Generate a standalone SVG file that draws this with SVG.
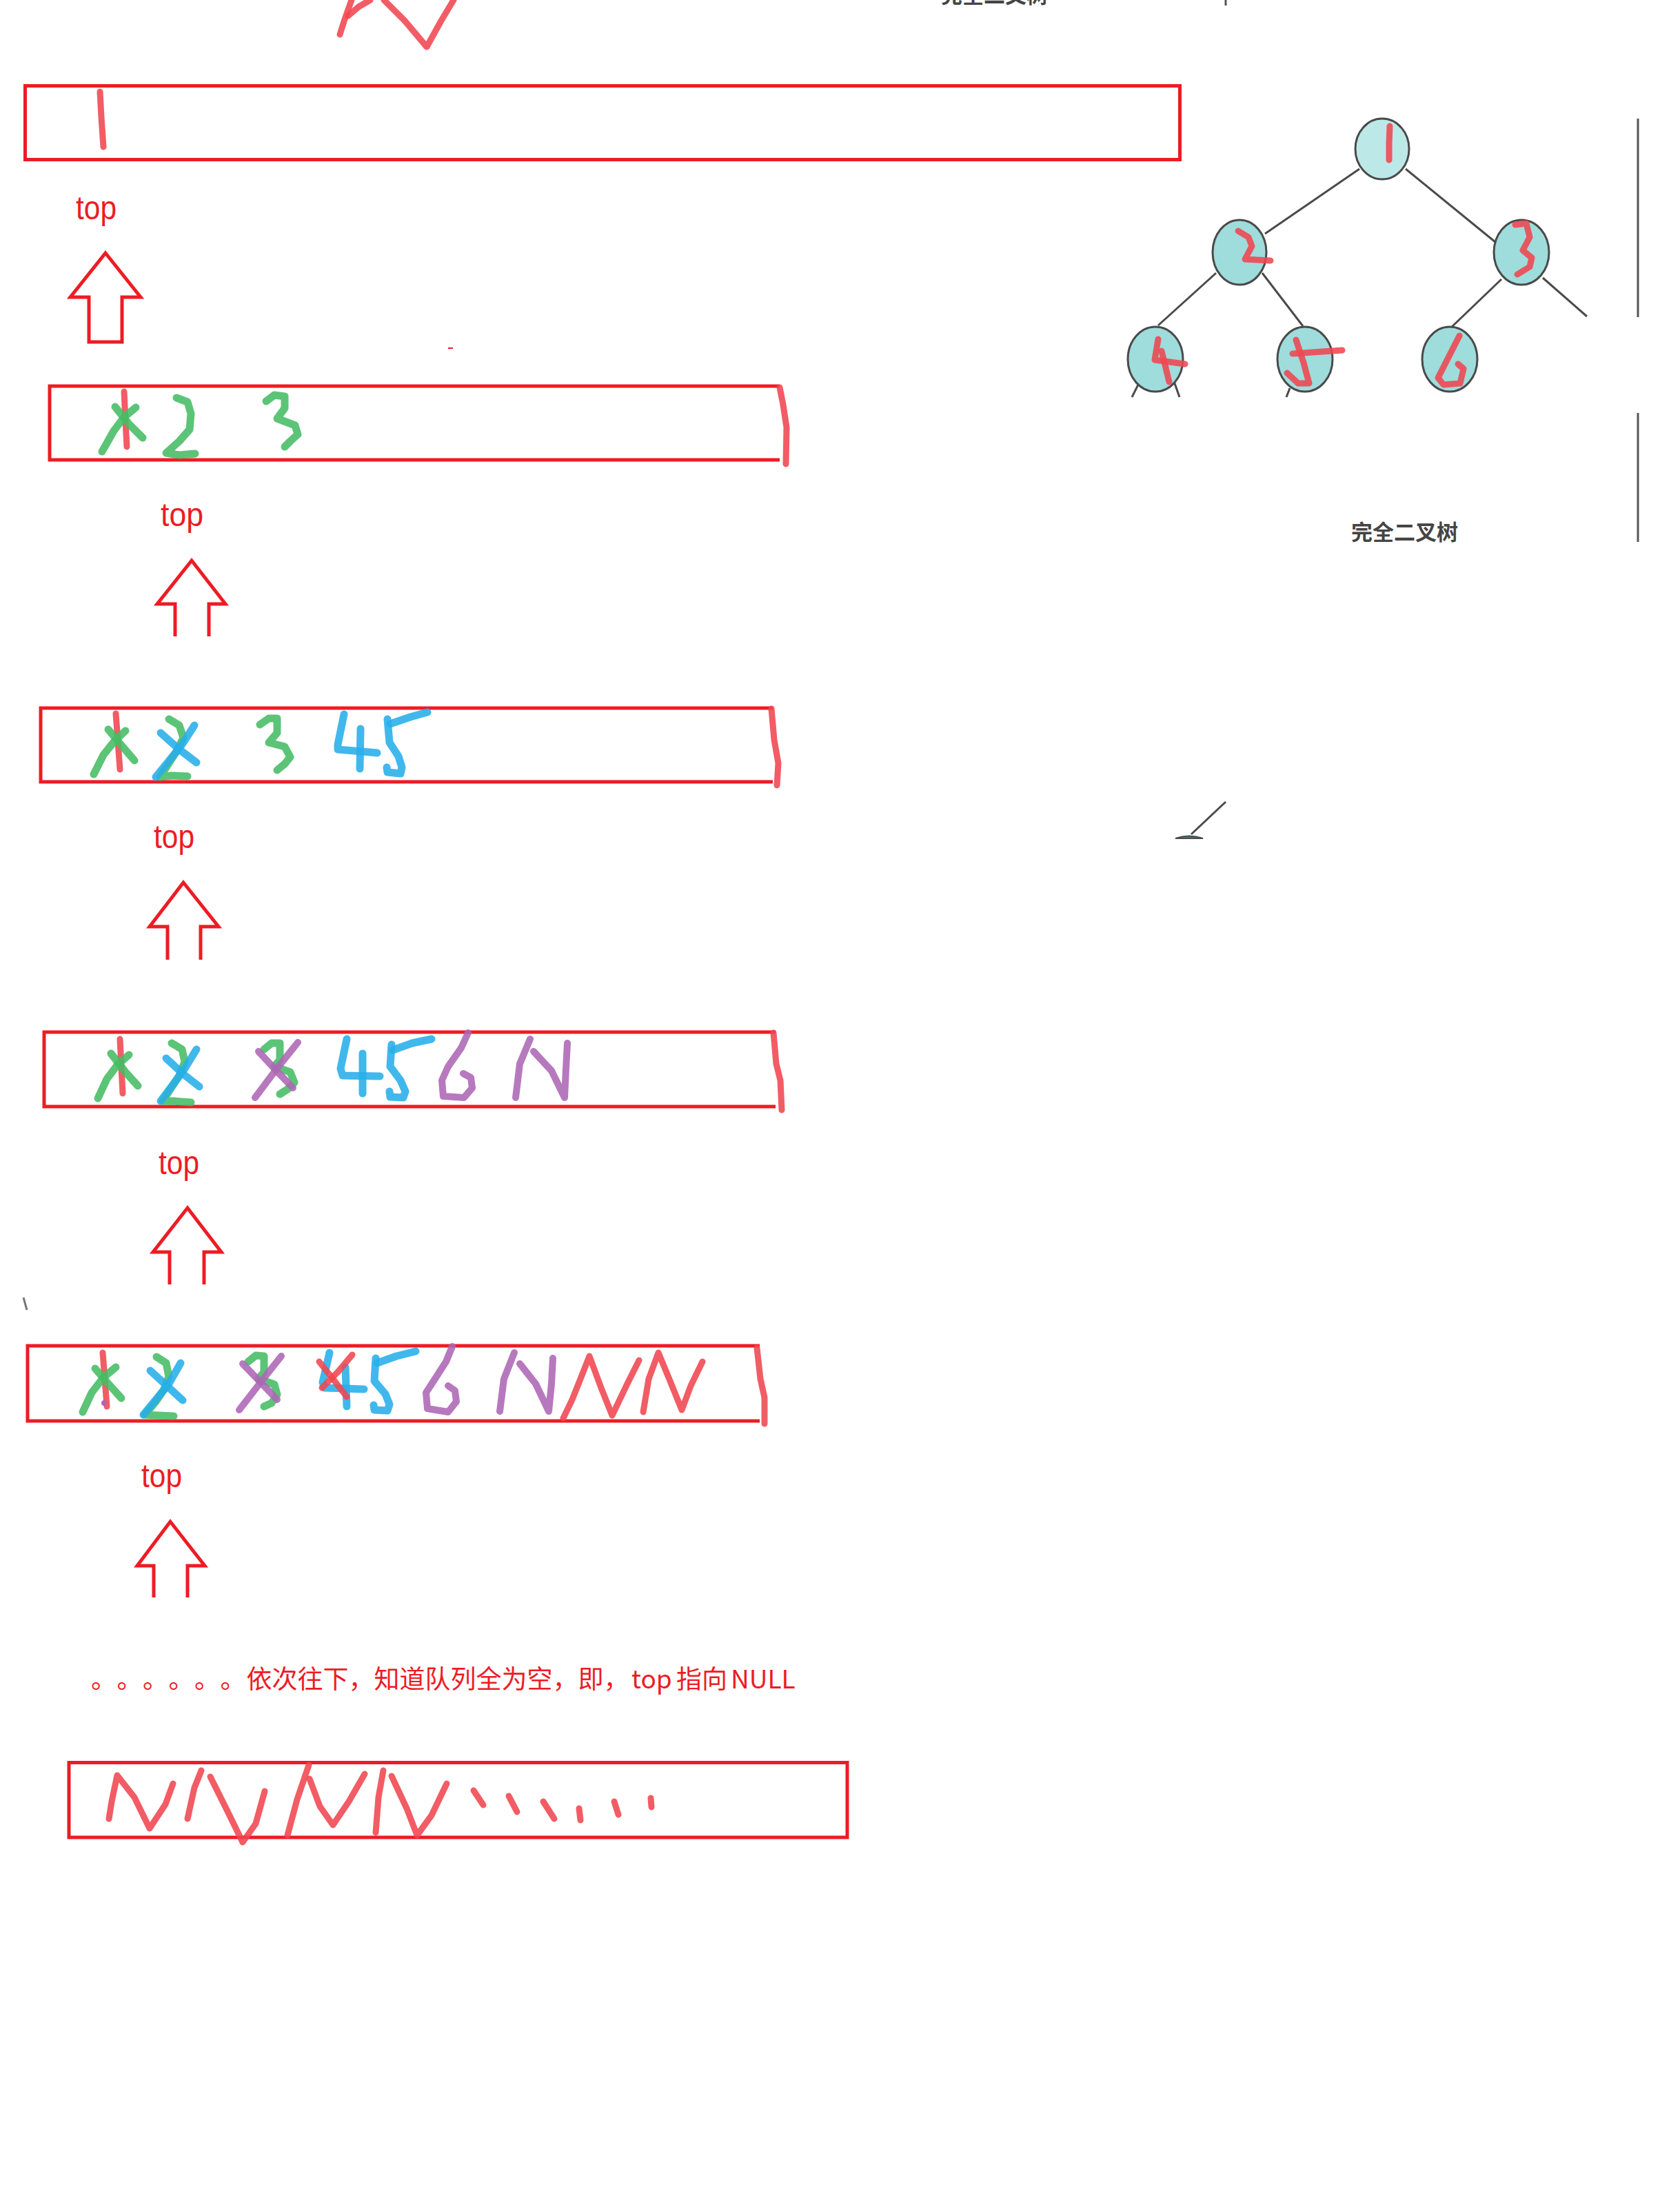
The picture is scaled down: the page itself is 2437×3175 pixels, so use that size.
<svg xmlns="http://www.w3.org/2000/svg" width="2437" height="3175" viewBox="0 0 2437 3175">
<style>
.box{fill:none;stroke:#ed1c24;stroke-width:5;stroke-linejoin:miter}
.arr{fill:none;stroke:#ed1c24;stroke-width:5;stroke-linejoin:miter}
.pen{fill:none;stroke-linecap:round;stroke-linejoin:round;opacity:0.88}
.r{stroke:#f04550;stroke-width:9}
.g{stroke:#45bc64;stroke-width:11}
.b{stroke:#27aee9;stroke-width:11}
.p{stroke:#ad66b5;stroke-width:10}
.top{font-family:"Liberation Sans","Noto Sans",sans-serif;font-size:48px;fill:#ed1c24}
.node{fill:#9fdcdc;stroke:#4a4a4a;stroke-width:3}
.edge{stroke:#4a4a4a;stroke-width:3;fill:none}
.grey{stroke:#555;stroke-width:3;fill:none}
.cap{font-family:"Noto Sans CJK SC","Noto Sans",sans-serif;font-size:31px;font-weight:bold;fill:#444}
.note{font-family:"Noto Sans CJK SC","Noto Sans",sans-serif;font-size:37px;fill:#ed1c24}
</style>
<rect width="2437" height="3175" fill="#ffffff"/>

<g id="top-fragment">
<polyline class="pen r" points="493,50 500,28 510,0"/>
<polyline class="pen r" points="505,23 520,10 537,0"/>
<polyline class="pen r" points="557,0 587,30 619,68 640,30 658,0"/>
<text class="cap" x="1365" y="4" fill="#555">完全二叉树</text>
<line class="grey" x1="1778" y1="0" x2="1778" y2="8"/>
</g>

<g id="queue1">
<rect class="box" x="36.5" y="124.5" width="1675" height="107"/>
<polyline class="pen r" points="145,133 147,170 150,213"/>
</g>
<text id="top1" class="top" x="110" y="318" textLength="59" lengthAdjust="spacingAndGlyphs">top</text>

<g id="queue2">
<polyline class="box" points="1131,560 72,560 72,667 1131,667"/>
<polyline class="pen r" stroke-width="7" points="1131,562 1136,587 1141,620 1140,673"/>
<polyline class="pen r" points="180,568 182,610 184,648"/>
<polyline class="pen g" points="148,655 165,625 180,605 197,591"/>
<polyline class="pen g" points="167,590 187,615 207,635"/>
<polyline class="pen g" points="256,577 272,583 277,600 275,623 260,640 241,657 260,660 283,658"/>
<polyline class="pen g" points="386,582 398,573 413,575 413,592 402,607 428,617 432,630 421,640 413,648"/>
</g>
<text id="top2" class="top" x="233" y="763" textLength="62" lengthAdjust="spacingAndGlyphs">top</text>

<g id="queue3">
<polyline class="box" points="1121,1027 59,1027 59,1134 1121,1134"/>
<polyline class="pen r" stroke-width="7" points="1119,1028 1123,1073 1129,1107 1127,1139"/>
<polyline class="pen r" points="168,1035 171,1075 174,1116"/>
<polyline class="pen g" points="136,1123 150,1095 166,1075 182,1060"/>
<polyline class="pen g" points="157,1058 177,1082 195,1103"/>
<polyline class="pen g" points="245,1043 260,1052 266,1070 256,1090 245,1107 232,1127 249,1125 272,1126"/>
<polyline class="pen b" points="233,1063 260,1087 285,1106"/>
<polyline class="pen b" points="282,1052 264,1080 226,1127"/>
<polyline class="pen g" points="377,1051 390,1042 402,1042 402,1063 390,1077 413,1083 421,1098 413,1108 402,1117"/>
<polyline class="pen b" points="499,1036 490,1080 490,1087 547,1092"/>
<polyline class="pen b" points="523,1057 522,1115"/>
<polyline class="pen b" points="566,1050 595,1040 620,1033"/>
<polyline class="pen b" points="562,1043 565,1077 578,1097 583,1113 581,1122 562,1120 561,1113"/>
</g>
<text id="top3" class="top" x="223" y="1230" textLength="59" lengthAdjust="spacingAndGlyphs">top</text>

<g id="queue4">
<polyline class="box" points="1125,1497 64,1497 64,1605 1125,1605"/>
<polyline class="pen r" stroke-width="7" points="1122,1498 1126,1543 1132,1567 1134,1610"/>
<polyline class="pen r" points="174,1507 176,1548 178,1586"/>
<polyline class="pen g" points="142,1593 155,1565 170,1545 187,1530"/>
<polyline class="pen g" points="161,1528 182,1555 200,1575"/>
<polyline class="pen g" points="249,1513 264,1522 268,1540 260,1560 249,1577 236,1597 252,1597 277,1599"/>
<polyline class="pen b" points="241,1535 266,1558 289,1576"/>
<polyline class="pen b" points="285,1522 268,1550 233,1597"/>
<polyline class="pen g" points="383,1522 394,1513 406,1513 406,1537 398,1547 421,1555 427,1570 417,1580 406,1587"/>
<polyline class="pen p" points="375,1525 400,1552 425,1578"/>
<polyline class="pen p" points="432,1512 400,1552 370,1592"/>
<polyline class="pen b" points="503,1507 494,1550 497,1560 551,1561"/>
<polyline class="pen b" points="526,1528 526,1586"/>
<polyline class="pen b" points="570,1523 598,1513 626,1507"/>
<polyline class="pen b" points="568,1515 566,1547 581,1567 588,1583 585,1592 566,1591 565,1583"/>
<polyline class="pen p" points="679,1498 669,1520 650,1547 641,1567 643,1590 673,1592 685,1578 683,1563 672,1557"/>
<polyline class="pen p" points="748,1592 754,1543 769,1507"/>
<polyline class="pen p" points="774,1525 800,1553 819,1592 821,1550 823,1513"/>
</g>
<text id="top4" class="top" x="230" y="1703" textLength="59" lengthAdjust="spacingAndGlyphs">top</text>

<g id="queue5">
<polyline class="box" points="1102,1952 40,1952 40,2061 1102,2061"/>
<polyline class="pen r" stroke-width="7" points="1098,1955 1103,2000 1109,2027 1109,2065"/>
<polyline class="pen r" points="149,1962 152,2000 155,2040"/>
<polyline class="pen g" points="120,2048 133,2020 150,1998 168,1983"/>
<polyline class="pen g" points="138,1985 158,2008 176,2028"/>
<circle cx="151" cy="2035" r="4" fill="#ad66b5"/>
<polyline class="pen g" points="227,1968 241,1977 245,1997 237,2017 226,2033 210,2052 230,2053 252,2054"/>
<polyline class="pen b" points="218,1988 242,2010 265,2031"/>
<polyline class="pen b" points="262,1977 245,2007 208,2052"/>
<polyline class="pen g" points="360,1975 371,1966 383,1967 383,1990 375,2000 398,2008 402,2023 394,2035 383,2040"/>
<polyline class="pen p" points="352,1978 378,2005 402,2030"/>
<polyline class="pen p" points="408,1967 378,2005 347,2045"/>
<polyline class="pen b" points="478,1962 468,2005 471,2013 528,2015"/>
<polyline class="pen b" points="501,1983 503,2040"/>
<polyline class="pen r" points="463,1975 483,2000 503,2026"/>
<polyline class="pen r" points="511,1965 490,1990 467,2013"/>
<polyline class="pen b" points="547,1977 575,1967 603,1960"/>
<polyline class="pen b" points="545,1970 543,2003 559,2022 565,2037 562,2046 543,2045 542,2038"/>
<polyline class="pen p" points="656,1953 647,1975 629,2003 618,2020 620,2043 650,2048 662,2033 660,2017 650,2010"/>
<polyline class="pen p" points="725,2047 731,2000 746,1962"/>
<polyline class="pen p" points="754,1978 777,2007 796,2047 800,2007 802,1970"/>
<polyline class="pen r" points="817,2057 830,2030 842,2000 855,1967 872,2013 888,2053 910,2007 927,1973"/>
<polyline class="pen r" points="933,2048 941,2000 955,1962 972,2003 989,2045 1002,2010 1019,1975"/>
</g>
<text id="top5" class="top" x="205" y="2157" textLength="59" lengthAdjust="spacingAndGlyphs">top</text>

<text id="note" class="note" y="2449"><tspan x="132 169.5 207 244.5 282 319.5">。。。。。。</tspan><tspan x="357.5 394.5 431.5 468.5 505.5 542.5 579.5 616.5 653.5 690.5 727.5 764.5 801.5 838.5 875.5">依次往下，知道队列全为空，即，</tspan><tspan x="916">top</tspan><tspan x="981 1018">指向</tspan><tspan x="1060">NULL</tspan></text>

<g id="queue6">
<rect class="box" x="100" y="2556.5" width="1129" height="108.5"/>
<polyline class="pen r" stroke-width="9" points="158,2638 162,2613 170,2575 195,2607 217,2652 240,2617 251,2587"/>
<polyline class="pen r" stroke-width="9" points="272,2638 282,2593 292,2568"/>
<polyline class="pen r" stroke-width="9" points="305,2577 328,2623 352,2672 371,2645 384,2598"/>
<polyline class="pen r" stroke-width="9" points="417,2662 431,2610 448,2560"/>
<polyline class="pen r" stroke-width="9" points="449,2580 464,2620 483,2647 506,2613 529,2573"/>
<polyline class="pen r" stroke-width="9" points="545,2658 549,2607 556,2568"/>
<polyline class="pen r" stroke-width="9" points="568,2576 590,2623 605,2662 626,2633 648,2587"/>
<polyline class="pen r" stroke-width="9" points="687,2597 701,2618"/>
<polyline class="pen r" stroke-width="9" points="738,2605 750,2628"/>
<polyline class="pen r" stroke-width="9" points="788,2613 804,2638"/>
<polyline class="pen r" stroke-width="9" points="840,2623 842,2640"/>
<polyline class="pen r" stroke-width="9" points="891,2613 897,2632"/>
<polyline class="pen r" stroke-width="9" points="944,2608 945,2621"/>
</g>

<g id="connectors">
<polygon class="arr" points="153,367 204,431 177,431 177,496 129,496 129,431 102,431"/>
<polyline class="arr" points="303,923 303,876 327,876 278,813 228,876 254,876 254,923"/>
<polyline class="arr" points="291,1392 291,1344 317,1344 266,1280 217,1344 243,1344 243,1392"/>
<polyline class="arr" points="296,1863 296,1816 321,1816 272,1752 222,1816 246,1816 246,1863"/>
<polyline class="arr" points="272,2317 272,2271 297,2271 247,2207 199,2271 223,2271 223,2317"/>
<line class="edge" x1="1972" y1="245" x2="1835" y2="339"/>
<line class="edge" x1="2039" y1="245" x2="2169" y2="351"/>
<line class="edge" x1="1764" y1="396" x2="1680" y2="472"/>
<line class="edge" x1="1831" y1="396" x2="1890" y2="473"/>
<line class="edge" x1="2178" y1="405" x2="2106" y2="474"/>
<line class="edge" x1="2238" y1="403" x2="2302" y2="459"/>
<line class="edge" x1="1651" y1="558" x2="1642" y2="576"/>
<line class="edge" x1="1704" y1="556" x2="1711" y2="576"/>
<line class="edge" x1="1871" y1="563" x2="1866" y2="576"/>
</g>

<g id="tree">
<g id="n1"><ellipse class="node" cx="2005" cy="216" rx="39" ry="44" style="fill:#bde8e8"/><polyline class="pen r" points="2016,183 2015,208 2015,232"/></g>
<g id="n2"><ellipse class="node" cx="1798" cy="366" rx="39" ry="47"/><polyline class="pen r" points="1796,335 1811,344 1816,357 1806,376 1843,378"/></g>
<g id="n3"><ellipse class="node" cx="2207" cy="366" rx="40" ry="47"/><polyline class="pen r" points="2198,326 2214,324 2219,344 2209,363 2222,374 2219,387 2201,398"/></g>
<g id="n4"><ellipse class="node" cx="1676" cy="521" rx="40" ry="47"/><polyline class="pen r" points="1680,492 1675,522 1719,528"/><polyline class="pen r" points="1685,509 1696,554"/></g>
<g id="n5"><ellipse class="node" cx="1893" cy="521" rx="40" ry="47"/><polyline class="pen r" points="1875,513 1947,508"/><polyline class="pen r" points="1880,493 1891,526 1899,556 1883,556 1867,541"/></g>
<g id="n6"><ellipse class="node" cx="2103" cy="521" rx="40" ry="47"/><polyline class="pen r" points="2117,487 2086,548 2094,558 2118,556 2123,535 2115,528"/></g>
<line class="grey" x1="2376" y1="172" x2="2376" y2="460"/>
<line class="grey" x1="2376" y1="599" x2="2376" y2="786"/>
<text class="cap" x="1960" y="783">完全二叉树</text>
</g>

<g id="marks">
<line x1="650" y1="505" x2="657" y2="505" stroke="#ed1c24" stroke-width="2"/>
<line class="edge" x1="1778" y1="1163" x2="1728" y2="1210"/>
<path d="M1705,1216 Q1725,1209 1745,1216 Z" fill="#3d7f80" stroke="#4a4a4a" stroke-width="2"/>
<line x1="34" y1="1882" x2="39" y2="1900" stroke="#777" stroke-width="3"/>
</g>
</svg>
